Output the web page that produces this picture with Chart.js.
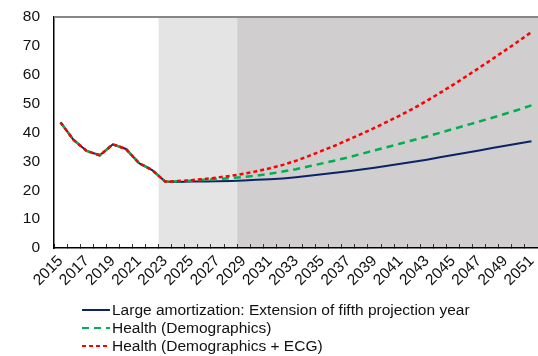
<!DOCTYPE html>
<html>
<head>
<meta charset="utf-8">
<script src="https://cdn.jsdelivr.net/npm/chart.js@4.4.0/dist/chart.umd.min.js"></script>
<style>
body{margin:0;background:#fff;}
#wrap{position:relative;width:538px;height:356px;}
#legend{position:absolute;left:82px;top:301px;font:15.5px "Liberation Sans",Arial,sans-serif;color:#111;}
#legend div{height:18px;display:flex;align-items:center;white-space:nowrap;}
#legend svg{margin-right:2px;}
</style>
</head>
<body>
<div id="wrap">
<canvas id="myChart" width="538" height="356"></canvas>
<div id="legend"></div>
</div>
<script>
// years on the category axis
var years = [];
for (var y = 2015; y <= 2051; y++) years.push(String(y));

// observed part, same for every series (2015-2022)
var observed = [43.5, 37.4, 33.6, 32.1, 35.9, 34.3, 29.4, 27.0];

// projections 2023-2051
var largeAmort = [23.0, 22.9, 23.0, 23.0, 23.1, 23.2, 23.4, 23.6, 23.8, 24.1,
                  24.5, 25.0, 25.5, 26.1, 26.6, 27.2, 27.8, 28.5, 29.2, 29.9,
                  30.6, 31.4, 32.2, 33.0, 33.8, 34.6, 35.4, 36.2, 37.0];
var healthDemo = [23.0, 23.1, 23.3, 23.6, 23.9, 24.2, 24.6, 25.1, 25.7, 26.5,
                  27.3, 28.3, 29.3, 30.3, 31.4, 32.6, 33.8, 35.0, 36.2, 37.4,
                  38.6, 39.9, 41.2, 42.5, 43.8, 45.1, 46.5, 47.9, 49.4];
var healthEcg  = [23.0, 23.2, 23.5, 23.9, 24.4, 25.0, 25.7, 26.6, 27.6, 28.8,
                  30.2, 31.9, 33.7, 35.5, 37.5, 39.5, 41.6, 43.8, 46.0, 48.4,
                  51.0, 53.7, 56.5, 59.4, 62.4, 65.4, 68.5, 71.6, 74.8];

var yTicks = [0, 10, 20, 30, 40, 50, 60, 70, 80];

// shaded periods (first and last year of each)
var shadeLight = ['2023', '2028'];
var shadeDark = ['2029', '2051'];

var seriesNames = [
    'Large amortization: Extension of fifth projection year',
    'Health (Demographics)',
    'Health (Demographics + ECG)'
];

var font = '"Liberation Sans", Arial, sans-serif';

var shading = {
    id: 'shading',
    beforeDraw: function (chart) {
        var c = chart.ctx, a = chart.chartArea, x = chart.scales.x;
        var half = (x.getPixelForValue(1) - x.getPixelForValue(0)) / 2;
        function band(r, col) {
            var x0 = x.getPixelForValue(years.indexOf(r[0])) - half;
            var x1 = x.getPixelForValue(years.indexOf(r[1])) + half;
            c.fillStyle = col;
            c.fillRect(x0, a.top, x1 - x0, a.bottom - a.top);
        }
        c.save();
        band(shadeLight, '#e4e4e4');
        band(shadeDark, '#d0cecf');
        c.restore();
    },
    afterDraw: function (chart) {
        var c = chart.ctx, a = chart.chartArea;
        c.save();
        c.strokeStyle = '#878787';
        c.lineWidth = 2;
        c.beginPath();
        c.moveTo(a.left, a.top);
        c.lineTo(a.right, a.top);
        c.stroke();
        c.restore();
    }
};

var ctx = document.getElementById('myChart').getContext('2d');
var myChart = new Chart(ctx, {
    type: 'line',
    data: {
        labels: years,
        datasets: [{
            label: seriesNames[0],
            data: observed.concat(largeAmort),
            borderColor: '#0c2466',
            borderWidth: 2,
            order: 3
        }, {
            label: seriesNames[1],
            data: observed.concat(healthDemo),
            borderColor: '#00b050',
            borderWidth: 2.5,
            borderDash: [7, 5],
            order: 2
        }, {
            label: seriesNames[2],
            data: observed.concat(healthEcg),
            borderColor: '#ff0000',
            borderWidth: 2.5,
            borderDash: [4, 3],
            order: 1
        }]
    },
    options: {
        responsive: false,
        animation: false,
        elements: { point: { radius: 0 }, line: { tension: 0 } },
        layout: { padding: { top: 17, right: 0, left: 0, bottom: 0 } },
        plugins: { legend: { display: false }, tooltip: { enabled: false } },
        scales: {
            x: {
                offset: true,
                grid: { display: true, drawOnChartArea: false, drawTicks: true, tickLength: -4, offset: true, color: '#333', lineWidth: 1 },
                border: { display: true, color: '#000', width: 1.5 },
                ticks: {
                    autoSkip: false, maxRotation: 45, minRotation: 45, padding: 8,
                    color: '#111', font: { family: font, size: 15.5 },
                    callback: function (v, i) { return i % 2 == 0 ? years[i] : ''; }
                },
                afterFit: function (s) { s.height = 108; s.paddingLeft = 0; s.paddingRight = 0; }
            },
            y: {
                min: 0, max: 80,
                afterBuildTicks: function (s) { s.ticks = yTicks.map(function (v) { return { value: v }; }); },
                grid: { display: false, drawTicks: false },
                border: { display: true, color: '#000', width: 1.5 },
                ticks: { padding: 14, color: '#111', font: { family: font, size: 15.5 } },
                afterFit: function (s) { s.width = 54; s.paddingTop = 0; s.paddingBottom = 0; }
            }
        }
    },
    plugins: [shading]
});

// legend, one row per series
var lg = document.getElementById('legend');
myChart.data.datasets.forEach(function (d) {
    var row = document.createElement('div');
    var dash = d.borderDash ? d.borderDash.join(',') : 'none';
    row.innerHTML = '<svg width="28" height="4"><line x1="0" y1="2" x2="28" y2="2" stroke="' + d.borderColor +
        '" stroke-width="2" stroke-dasharray="' + dash + '"/></svg><span>' + d.label + '</span>';
    lg.appendChild(row);
});
</script>
</body>
</html>
